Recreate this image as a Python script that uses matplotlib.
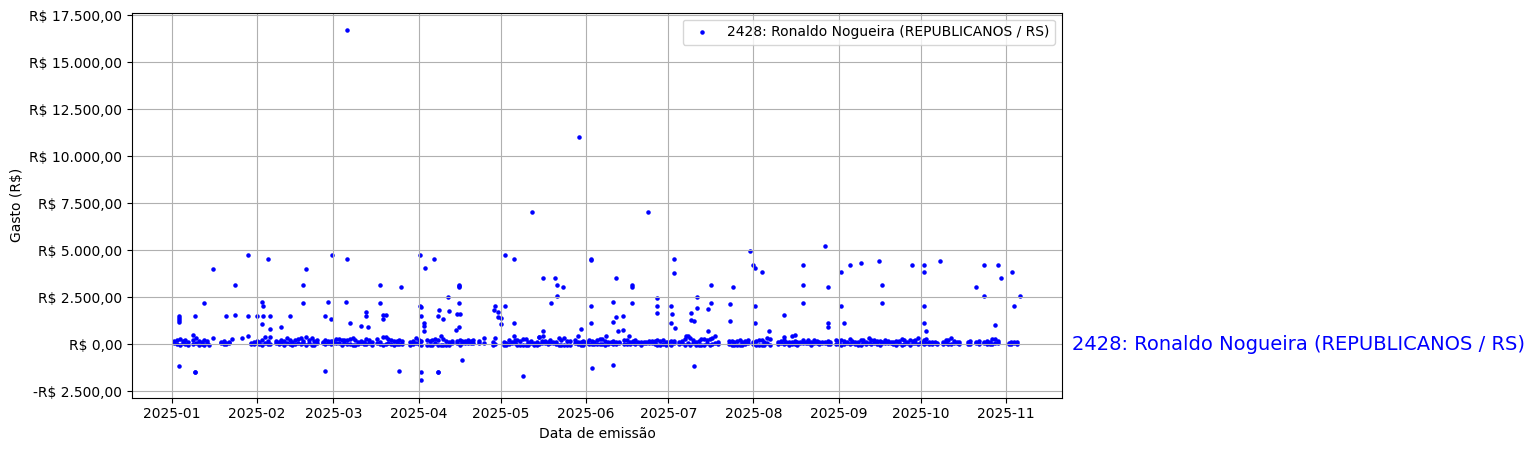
import matplotlib
matplotlib.use("Agg")
import matplotlib.pyplot as plt
import pandas as pd
from matplotlib.ticker import FuncFormatter

SERIES = "2428: Ronaldo Nogueira (REPUBLICANOS / RS)"

# isolated expenses: (days since 2025-01-01, value in R$)
large_q1 = [(2.7,1516),(2.7,1392),(2.7,1268),(2.7,1162),(2.7,-1150),(8.5,1500),(8.5,-1450),(8.5,-1500),(8,480),(15,4000),
            (12,2190),(23,3150),(20,1500),(23,1550),(28,1500),(31,1500),(28,4740),(35,4530),(33,2240),(33.5,2030),
            (33.5,1500),(36,1500),(33,1070),(36,800),(40,910),(43,1500),(49,4000),(48,3150),(48,2190),(57,2240),
            (58.4,4740),(56,1500),(58,1340),(56,-1430),(64,4530),(63.5,2240),(65,1125),(71,1710),(71,1500),(69,970),
            (71.5,910),(76,3150),(76,2190),(77,1550),(78,1550),(77,1340),(83.5,3040),(83,-1430),(64,16700),(28,430),
            (15,330),(22,275),(25.5,330),(13.6,-60)]
large_q2 = [(90.4,4740),(92.2,4050),(95.5,4530),(90.4,2030),(91,1980),(91,1500),(92,1125),(92,970),(92,700),(91,-1480),
            (91,-1906),(97,-1450),(97,-1500),(97,1500),(97.5,1820),(99,1340),(100.6,2500),(101,1760),(104.6,3160),(104.6,3060),
            (104.6,3110),(104.6,2190),(104,1600),(105,1600),(104.6,910),(103.6,750),(106,-840),(118,2030),(117.5,1835),(119,1710),
            (119,1445),(120,1390),(120,1070),(121.5,4740),(121.5,2030),(124.6,4530),(124.6,1125),(124.6,420),(127.9,-1690),(135.5,3520),
            (139.6,3520),(140.6,3150),(142.5,3040),(140.6,2560),(138.1,2190),(135.5,700),(135.5,420),(133.7,380),(149,800),(147.9,430),
            (148.5,11000),(131.4,7020),(152.7,4530),(152.7,4490),(152.7,2030),(152.7,1125),(153,-1270),(158.1,430),(161,-1110),(161.8,3520),
            (161,2240),(161.8,1445),(161,1180),(162.5,700),(164.3,1500),(164.3,750),(166.5,430),(167.6,3160),(167.6,3060),(167.6,2190),
            (173.6,7020),(176.7,2450),(177,2030),(177,1660)]
large_q3 = [(181.8,2030),(182.2,1600),(181.8,1125),(183.3,860),(182.9,4530),(182.9,3780),(190.2,-1160),(189.4,1660),(189.4,1280),(190.2,1230),
            (191.3,2500),(191.3,1920),(187.6,430),(195.6,1870),(196.7,2190),(196.7,3150),(195.6,700),(203.3,2140),(203.3,1230),(204.7,3040),
            (210.9,4950),(212,4210),(212.7,4060),(215,3840),(212.7,2030),(212.7,1125),(217.8,700),(223,1550),(223,380),(225.9,430),
            (227,480),(229.9,4210),(229.9,3150),(229.9,2190),(237.9,5220),(239,3040),(239,1125),(239,910),(244,3830),(244,2030),
            (245.1,1125),(247,4210),(251,4320),(257.9,4430),(259,3150),(259,2190),(269.9,4210)]
large_q4 = [(274.3,4210),(274.3,3830),(274.3,2030),(274.3,1125),(275,700),(280,4430),(293.2,3040),(296.1,4210),(296.1,2570),(300.1,1020),
            (301.2,4210),(302.3,3520),(306.3,3830),(307,2030),(309,2570)]

# the dense band of everyday expenses: (day, low value, high value)
band_jan = [(1,40,150),(2,30,210),(3,-20,300),(4,60,150),(5,10,230),(6,-30,120),(8,-10,250),(9,40,310),(10,-20,190),(11,20,120),
            (12,-20,250),(13,60,160),(18,50,120),(19,-10,170),(20,10,80),(21,60,120),(29,30,90),(30,-10,140)]
band_feb = [(31,40,190),(32,20,100),(33,-20,220),(34,60,380),(35,10,180),(36,-10,360),(38,40,180),
            (39,-10,130),(40,90,220),(41,-20,150),(42,60,330),(43,30,240),(44,-40,120),(45,20,250),(46,50,300),
            (47,10,340),(48,70,180),(49,-30,400),(50,50,230),(51,-20,330),(52,-30,170),(53,70,230),(55,60,120),
            (56,-10,240),(57,40,190),(58,-10,150)]
band_mar = [(59,60,190),(60,40,260),(61,70,270),(62,-30,230),(63,50,210),(64,-10,250),(65,10,270),(66,-20,310),
            (67,-30,240),(68,20,130),(69,60,170),(70,-10,130),(71,30,280),(72,70,220),(73,-20,130),(75,60,280),
            (76,20,120),(77,-40,380),(78,-10,380),(79,40,270),(80,10,250),(81,-20,180),(82,-10,150),(83,20,220),
            (84,10,160),(87,-20,130),(88,-10,150),(89,50,310)]
band_apr = [(90,30,220),(91,-30,170),(93,-20,200),(94,-30,180),(95,-20,210),(96,40,260),(97,-40,230),
            (98,-30,420),(99,-30,290),(100,-20,150),(101,-20,100),(102,40,190),(104,40,150),(105,-30,230),(106,60,180),
            (107,40,170),(108,70,210),(109,60,170),(110,50,250),(112,40,150),(114,50,350),(117,-30,100),
            (118,30,320)]
band_may = [(121,-20,130),(122,-30,80),(123,10,250),(124,40,120),(125,50,240),(126,-20,240),(127,-40,190),(128,-20,270),
            (129,-40,300),(130,-30,110),(131,40,180),(132,-20,90),(133,-30,120),(134,30,380),(135,40,150),(136,60,170),
            (137,30,110),(138,40,230),(139,60,110),(140,10,120),(141,-40,330),(142,-30,250),(143,-40,340),(144,-20,170),
            (145,-30,190),(147,40,240),(148,-10,130),(149,-30,100),(150,-40,160)]
band_jun = [(151,40,140),(152,30,200),(153,-10,160),(154,30,130),(155,20,240),(156,30,280),(157,-10,270),(158,-30,170),
            (159,-10,140),(160,60,120),(161,20,170),(162,10,130),(163,50,110),(165,20,250),(166,30,220),
            (167,-10,110),(168,40,150),(169,30,230),(170,60,120),(171,-30,100),(172,50,140),(173,40,110),(174,60,190),
            (175,50,150),(176,-10,170),(177,-20,220),(178,-30,190),(179,30,210),(180,-20,130)]
band_jul = [(181,30,120),(182,-30,180),(183,40,150),(185,20,140),(186,40,180),(187,-20,280),(188,60,430),(189,-30,310),
            (190,40,200),(191,-40,100),(192,-20,150),(193,-40,260),(194,-30,280),(195,40,250),(196,-20,290),(197,-10,350),
            (198,50,420),(199,30,100),(203,30,170),(204,-20,160),(205,-40,120),(206,-20,180),(207,-40,220),(208,-30,110),
            (209,30,170),(210,60,200)]
band_aug = [(212,30,130),(213,-40,190),(214,-30,220),(215,-40,250),(216,-20,130),(217,40,320),(218,-30,260),
            (221,30,120),(222,40,190),(223,-10,250),(224,40,110),(225,-20,140),(226,30,120),(227,20,160),(228,-20,110),
            (229,60,130),(230,40,250),(231,50,120),(232,60,210),(233,-20,130),(234,40,250),(235,60,180),(236,30,130),
            (237,50,140),(238,60,120),(239,30,150),(240,20,130),(242,-10,230)]
band_sep = [(243,30,150),(244,-20,230),(245,20,190),(246,40,120),(247,30,270),(248,60,180),(249,30,140),(250,-20,130),
            (251,-30,220),(252,60,250),(253,10,130),(254,60,310),(255,30,210),(256,60,240),(257,30,150),(258,-20,180),
            (259,60,130),(260,40,220),(261,50,160),(262,40,110),(263,-10,140),(264,-20,170),(265,60,190),(266,-20,270),
            (267,30,250),(268,50,130),(269,-20,200),(270,40,150),(271,50,240),(272,-10,310)]
band_oct = [(273,40,140),(274,30,230),(275,60,260),(276,10,130),(277,20,110),(278,60,120),(279,-10,90),(281,-10,110),
            (282,40,200),(283,20,250),(284,30,310),(285,50,170),(286,60,130),(287,20,100),(290,30,140),
            (291,10,150),(293,40,130),(294,30,180),(296,40,130),(297,-10,150),(298,10,110),(299,30,260),(300,40,290),
            (301,60,150),(305,30,90)]
band_nov = [(306,20,110),(307,40,120),(308,30,100)]

large = large_q1 + large_q2 + large_q3 + large_q4
band = band_jan + band_feb + band_mar + band_apr + band_may + band_jun + band_jul + band_aug + band_sep + band_oct + band_nov

day_values = [d for d, _ in large] + [r[0] for r in band] + [r[0] for r in band]
amount_values = [v for _, v in large] + [r[1] for r in band] + [r[2] for r in band]
dates = pd.Timestamp("2025-01-01") + pd.to_timedelta(day_values, unit="D")


def brl(v, _pos=None):
    s = f"{abs(v):,.2f}".replace(",", "X").replace(".", ",").replace("X", ".")
    return ("-" if v < 0 else "") + "R$ " + s


W, H = 1533, 451
fig = plt.figure(figsize=(W / 100, H / 100), dpi=100)
ax = fig.add_axes([132 / W, (H - 397.6) / H, 930 / W, 385 / H])
ax.scatter(dates, amount_values, s=5, color="blue", label=SERIES)
ax.yaxis.set_major_formatter(FuncFormatter(brl))
ax.set_xlabel("Data de emissão")
ax.set_ylabel("Gasto (R$)")
ax.grid(True)
ax.legend(loc="upper right")
ax.text(pd.Timestamp("2025-01-01") + pd.Timedelta(days=328), 0, SERIES,
        color="blue", fontsize=14, va="center", ha="left", clip_on=False)
fig.savefig("out.png", dpi=100)
